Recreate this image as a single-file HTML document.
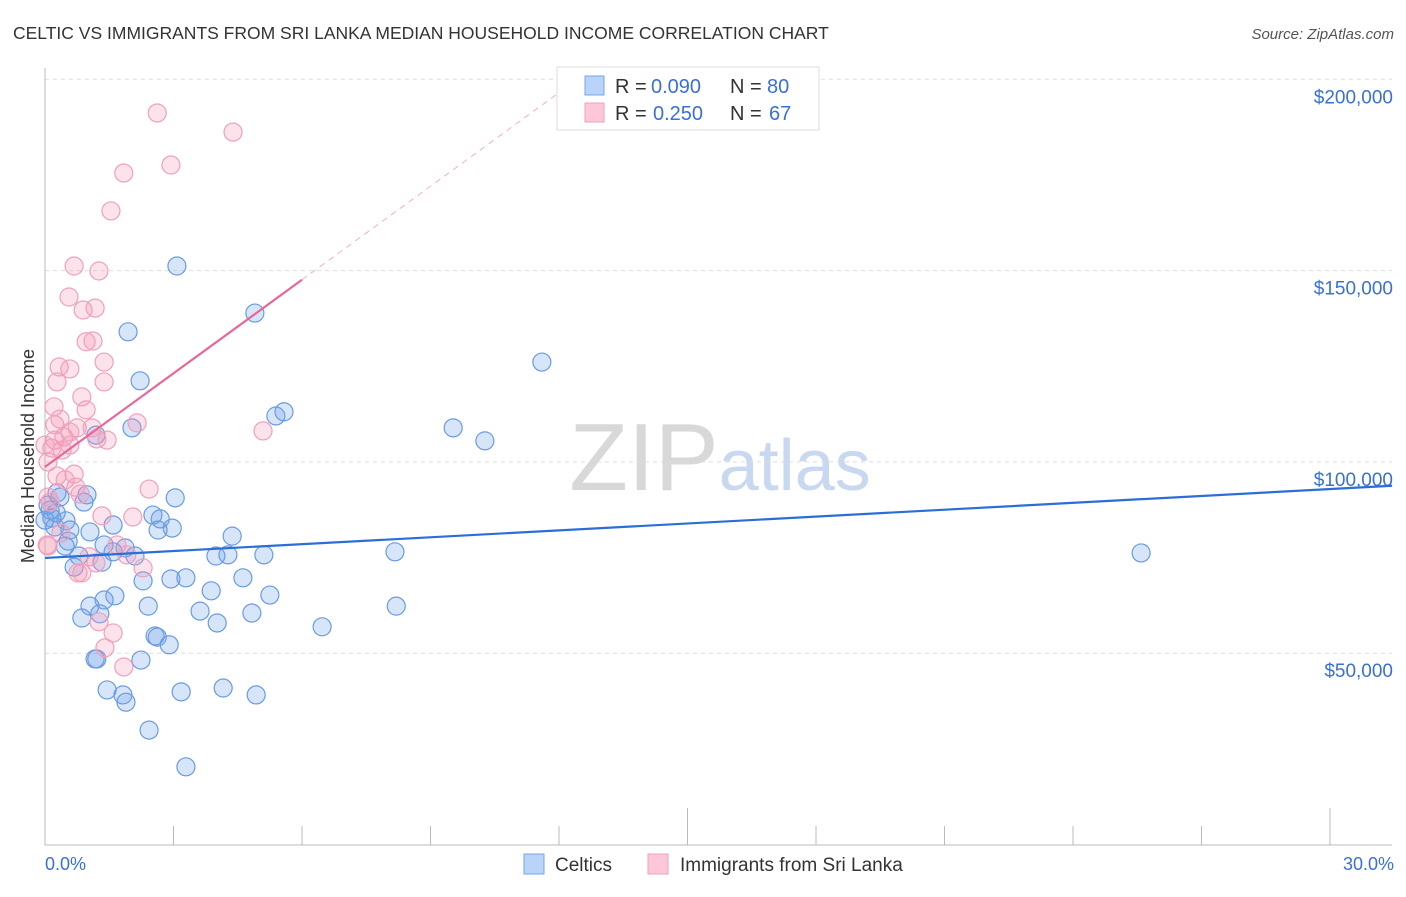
<!DOCTYPE html>
<html><head><meta charset="utf-8"><style>
body{margin:0;background:#fff;font-family:"Liberation Sans",sans-serif}
svg text{font-family:"Liberation Sans",sans-serif}
</style></head><body>
<svg id="chart" width="1406" height="892" xmlns="http://www.w3.org/2000/svg">
<text x="13" y="39" font-size="17.5" fill="#333">CELTIC VS IMMIGRANTS FROM SRI LANKA MEDIAN HOUSEHOLD INCOME CORRELATION CHART</text>
<text x="1394" y="39" font-size="15" fill="#555" font-style="italic" text-anchor="end">Source: ZipAtlas.com</text>
<text x="720" y="490" font-size="96" font-family="Liberation Serif" fill="#ddd" text-anchor="middle"><tspan fill="#d8d8d8">ZIP</tspan><tspan fill="#c8d8f0" font-family="Liberation Sans" font-size="72">atlas</tspan></text>
<text transform="translate(34,456) rotate(-90)" font-size="18" fill="#333" text-anchor="middle">Median Household Income</text>
<g id="grid"></g><g id="axes"></g><g id="pts"></g><g id="lines"></g>
<g>
<rect x="557" y="67" width="262" height="63" fill="#fff" stroke="#ddd"/>
<rect x="585" y="76" width="19" height="19" fill="#b8d4f8" stroke="#7aa5e6"/>
<rect x="585" y="103" width="19" height="19" fill="#fcc8d8" stroke="#f0a0bb"/>
<text y="93" font-size="20" fill="#333"><tspan x="615">R =</tspan><tspan x="651" fill="#3a6fd8">0.090</tspan><tspan x="730">N =</tspan><tspan x="767" fill="#3a6fd8">80</tspan></text>
<text y="120" font-size="20" fill="#333"><tspan x="615">R =</tspan><tspan x="653" fill="#3a6fd8">0.250</tspan><tspan x="730">N =</tspan><tspan x="769" fill="#3a6fd8">67</tspan></text>
</g>
<g>
<rect x="524" y="854" width="20" height="20" fill="#b8d4f8" stroke="#7aa5e6"/>
<text x="555" y="871" font-size="19" fill="#333">Celtics</text>
<rect x="648" y="854" width="20" height="20" fill="#fcc8d8" stroke="#f0a0bb"/>
<text x="680" y="871" font-size="19" fill="#333">Immigrants from Sri Lanka</text>
</g>
<text x="45" y="870" font-size="18" fill="#3a6fd8">0.0%</text>
<text x="1394" y="870" font-size="18" fill="#3a6fd8" text-anchor="end">30.0%</text>
</svg>
<script>
const yTicks=[50,100,150,200];
const yTickLabels=["$50,000","$100,000","$150,000","$200,000"];
const xTicks=[0,3,6,9,12,15,18,21,24,27,30];
const blueX=[3.08,4.90,1.94,2.22,11.60,5.39,5.58,9.53,10.27,2.03,1.19,25.59,8.17,8.20,6.47,0.98,0.35,3.04,0.91,0.12,0.26,0.49,2.52,2.69,2.97,1.59,1.05,2.64,4.37,0.58,0.23,0.54,1.38,1.87,2.10,1.59,0.79,1.33,3.99,4.27,5.11,0.68,4.62,2.94,3.29,2.29,3.88,5.25,1.63,1.38,2.41,1.05,1.28,0.86,3.62,4.83,4.02,2.57,2.62,2.90,1.21,1.17,2.24,1.45,1.82,1.89,3.18,4.16,4.93,2.43,3.29,0.47,0.16,0,0.07,0.28];
const blueY=[151.2,138.9,134.0,121.2,126.1,112.0,113.1,108.9,105.5,108.9,107.0,76.2,76.5,62.3,56.9,91.4,90.8,90.6,89.5,87.4,86.7,84.6,86.1,85.1,82.7,83.5,81.7,82.2,80.6,82.2,83.0,79.3,78.3,77.5,75.4,76.5,75.4,73.8,75.4,75.7,75.7,72.5,69.7,69.4,69.7,68.9,66.3,65.2,65.0,63.9,62.3,62.3,60.3,59.2,61.0,60.5,57.9,54.5,54.2,52.2,48.5,48.5,48.2,40.4,39.1,37.2,39.9,40.9,39.1,29.9,20.3,78.0,85.3,84.8,88.7,91.9];
const pinkX=[2.62,4.39,2.94,1.84,1.54,0.68,1.26,0.56,0.89,1.17,0.96,1.12,1.38,0.33,0.58,0.28,1.38,0.86,0.21,0.96,2.15,5.09,0.23,0.75,1.10,0.44,1.21,1.45,0.58,0.23,0.40,0.16,0.07,0.68,0.28,0.47,0.72,0.07,2.43,0.82,0.12,1.33,2.05,0.37,0.05,0.07,1.03,1.68,1.91,1.19,2.29,0.86,0.77,1.26,1.59,1.40,1.84,0.35,0.58,0];
const pinkY=[191.2,186.2,177.6,175.5,165.6,151.2,149.9,143.1,139.7,140.2,131.4,131.6,126.1,124.8,124.3,120.9,120.9,117.0,114.4,113.6,110.2,108.1,109.7,108.9,108.9,106.5,106.0,105.7,104.4,105.7,103.1,103.6,100.0,96.8,96.3,95.3,93.4,90.8,92.9,91.6,89.5,85.9,85.6,81.4,78.3,78.0,75.2,78.3,75.7,73.6,72.3,71.0,71.0,58.2,55.3,51.4,46.4,111.2,107.8,104.4];
const blueLine=[74.9,0.6];   // intercept (k$), slope per %
const pinkLine=[98.7,8.15];
const X0=45,X1=1330,Y0=844.5,PY=191.3/50;
const sx=v=>X0+(X1-X0)*v/30, sy=v=>Y0-v*PY;
const NS="http://www.w3.org/2000/svg";
function mk(p,t,a){const e=document.createElementNS(NS,t);for(const k in a)e.setAttribute(k,a[k]);document.getElementById(p).appendChild(e);return e;}
yTicks.forEach((t,i)=>{
 const l=mk('grid','line',{x1:45,x2:1392,y1:sy(t),y2:sy(t),stroke:'#ddd','stroke-dasharray':'4,4'});
 
 
 const tx=mk('grid','text',{x:1393,y:sy(t)+24,'font-size':19,fill:'#3a6fd8','text-anchor':'end'});
 tx.textContent=yTickLabels[i];
 
 
});
const ax=mk('axes','path',{d:`M45,68V845H1392`,fill:'none',stroke:'#bbb'});


xTicks.forEach(t=>{
 const tk=mk('axes','line',{x1:sx(t),x2:sx(t),y1:(t===15||t===30)?808:826,y2:845,stroke:'#bbb'});
 
 
});
blueX.forEach((x,i)=>{
 const c=mk('pts','circle',{cx:sx(x),cy:sy(blueY[i]),r:9,fill:'rgba(110,160,235,0.28)',stroke:'#6a9be0','stroke-width':1.2});
 
 
});
pinkX.forEach((x,i)=>{
 const c=mk('pts','circle',{cx:sx(x),cy:sy(pinkY[i]),r:9,fill:'rgba(245,150,180,0.28)',stroke:'#f0a0bb','stroke-width':1.2});
 
 
});
const bl=mk('lines','line',{x1:sx(0),y1:sy(blueLine[0]),x2:sx(31.45),y2:sy(blueLine[0]+blueLine[1]*31.45),stroke:'#2b6fd6','stroke-width':2.2});


const pl=mk('lines','line',{x1:sx(0),y1:sy(pinkLine[0]),x2:sx(6),y2:sy(pinkLine[0]+pinkLine[1]*6),stroke:'#e8679a','stroke-width':2.2});


const pd=mk('lines','line',{x1:sx(6),y1:sy(pinkLine[0]+pinkLine[1]*6),x2:sx(12.2),y2:sy(pinkLine[0]+pinkLine[1]*12.2),stroke:'#f0b0c8','stroke-width':1,'stroke-dasharray':'6,5'});


</script>
</body></html>
